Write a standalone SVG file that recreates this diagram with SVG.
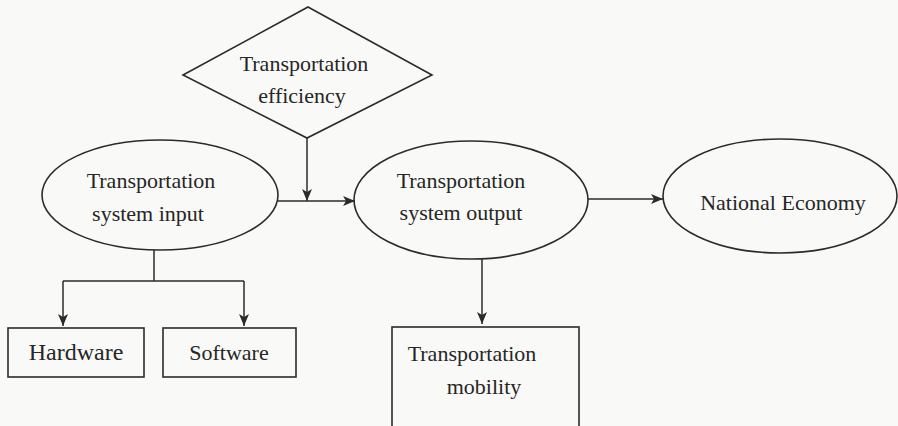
<svg xmlns="http://www.w3.org/2000/svg" width="898" height="426" viewBox="0 0 898 426">
  <style>
    .shape { fill: none; stroke: #2b2b2b; stroke-width: 1.6; }
    .link { fill: none; stroke: #2b2b2b; stroke-width: 1.5; }
    text { font-family: "Liberation Serif", "Times New Roman", serif; font-size: 22px; fill: #262626; text-anchor: middle; }
  </style>
  <defs>
    <marker id="arrow" viewBox="0 0 12 10" refX="12" refY="5" markerWidth="12" markerHeight="10" markerUnits="userSpaceOnUse" orient="auto">
      <path d="M0,0 L12,5 L0,10 L3,5 z" fill="#2b2b2b"/>
    </marker>
  </defs>
  <rect width="898" height="426" fill="#f9f9f7"/>

  <g id="connectors">
    <path class="link" d="M307,138 V201" marker-end="url(#arrow)"/>
    <path class="link" d="M278,201 H355" marker-end="url(#arrow)"/>
    <path class="link" d="M588,199 H663" marker-end="url(#arrow)"/>
    <path class="link" d="M482,258 V324" marker-end="url(#arrow)"/>
    <path class="link" d="M154,250 V281 M63,281 H244"/>
    <path class="link" d="M63,281 V326" marker-end="url(#arrow)"/>
    <path class="link" d="M244,281 V326" marker-end="url(#arrow)"/>
  </g>

  <g id="efficiency">
    <polygon class="shape" points="308,7 432,75 307,138 183,75"/>
    <text x="304" y="71">Transportation</text>
    <text x="302" y="103">efficiency</text>
  </g>

  <g id="system-input">
    <ellipse class="shape" cx="160" cy="195" rx="118" ry="55"/>
    <text x="151" y="188">Transportation</text>
    <text x="148" y="221">system input</text>
  </g>

  <g id="system-output">
    <ellipse class="shape" cx="471" cy="200" rx="117" ry="59"/>
    <text x="461" y="188">Transportation</text>
    <text x="461" y="220">system output</text>
  </g>

  <g id="national-economy">
    <ellipse class="shape" cx="780" cy="196" rx="117" ry="57"/>
    <text x="783" y="210">National Economy</text>
  </g>

  <g id="hardware">
    <rect class="shape" x="8" y="328" width="136" height="49"/>
    <text x="76" y="360" style="font-size:24px">Hardware</text>
  </g>

  <g id="software">
    <rect class="shape" x="163" y="328" width="133" height="49"/>
    <text x="229" y="360">Software</text>
  </g>

  <g id="mobility">
    <rect class="shape" x="392" y="327" width="187" height="110"/>
    <text x="472" y="361">Transportation</text>
    <text x="484" y="394">mobility</text>
  </g>
</svg>
